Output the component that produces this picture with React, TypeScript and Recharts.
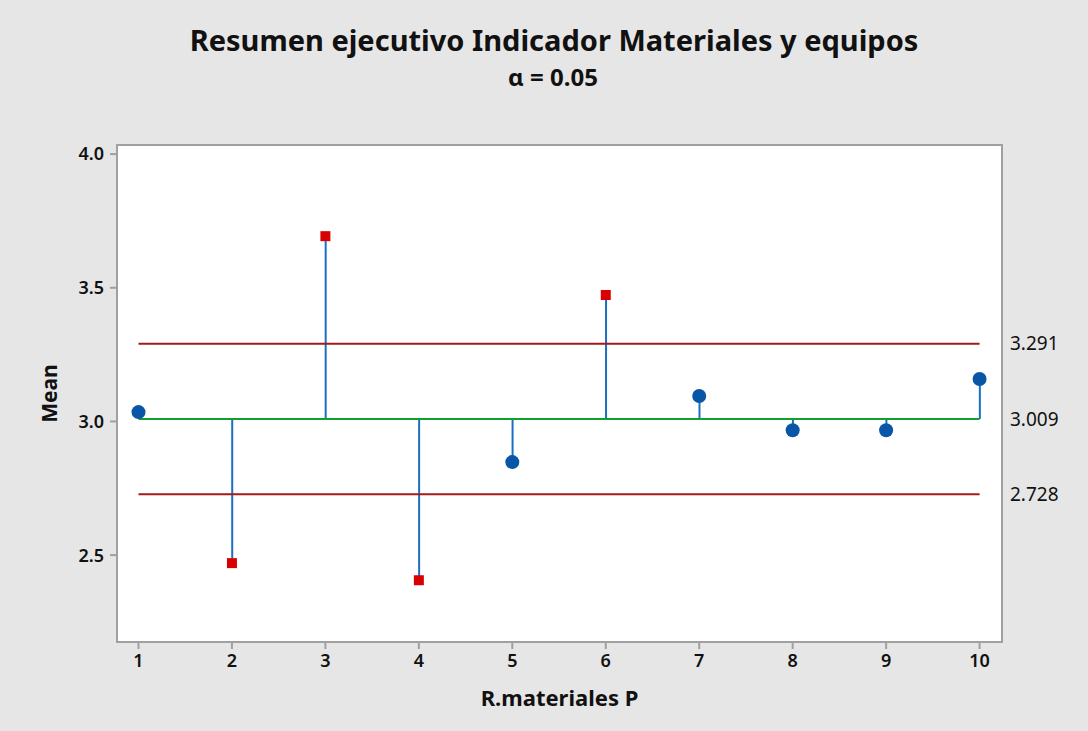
import React from "react";
import {
  ComposedChart,
  Bar,
  Scatter,
  XAxis,
  YAxis,
  ReferenceLine,
  ReferenceArea,
} from "recharts";

// ANOM: medias por nivel de R.materiales P
const groups = [1, 2, 3, 4, 5, 6, 7, 8, 9, 10];
const means = [3.035, 2.47, 3.693, 2.406, 2.848, 3.473, 3.095, 2.967, 2.967, 3.159];
const center = 3.009;
const upper = 3.291;
const lower = 2.728;
const yTicks = [2.5, 3.0, 3.5, 4.0];
const limitTicks = [lower, center, upper];

const X_DOMAIN = [0.77, 10.24];
const Y_DOMAIN = [2.175, 4.034];
const FONT = "'Noto Sans', 'Open Sans', sans-serif";
const GRAY = "#a0a0a0";

const data = groups.map((g, i) => ({ g, mean: means[i], stem: [center, means[i]] }));
const inside = data.filter((d) => d.mean <= upper && d.mean >= lower);
const outside = data.filter((d) => d.mean > upper || d.mean < lower);

const Dot = (p: any) => <circle cx={p.cx} cy={p.cy} r={7} fill="#0a56a6" />;
const Square = (p: any) => (
  <rect x={p.cx - 5} y={p.cy - 5} width={10} height={10} fill="#d80000" />
);

export default function App() {
  return (
    <div
      style={{
        position: "absolute",
        left: 0,
        top: 0,
        width: 1088,
        height: 731,
        background: "#e6e6e6",
        fontFamily: FONT,
      }}
    >
      <div
        style={{
          position: "absolute",
          left: 0,
          width: 1108,
          top: 20,
          textAlign: "center",
          fontSize: 29,
          fontWeight: 700,
          color: "#111",
        }}
      >
        Resumen ejecutivo Indicador Materiales y equipos
      </div>
      <div
        style={{
          position: "absolute",
          left: 0,
          width: 1106,
          top: 60,
          textAlign: "center",
          fontSize: 24,
          fontWeight: 700,
          color: "#111",
        }}
      >
        α = 0.05
      </div>
      <ComposedChart
        width={1088}
        height={731}
        data={data}
        margin={{ top: 145, right: 0, bottom: 29, left: 40 }}
        style={{ position: "absolute", left: 0, top: 0 }}
      >
        <XAxis
          dataKey="g"
          type="number"
          domain={X_DOMAIN}
          ticks={groups}
          allowDataOverflow
          height={60}
          axisLine={{ stroke: GRAY, strokeWidth: 2 }}
          tickLine={{ stroke: GRAY, strokeWidth: 2 }}
          tickSize={7}
          tickMargin={5}
          tick={{ fill: "#111", fontSize: 18, fontWeight: 600, fontFamily: FONT }}
          label={{
            value: "R.materiales P",
            position: "insideBottom",
            offset: -4,
            fill: "#111",
            fontSize: 22,
            fontWeight: 700,
            fontFamily: FONT,
          }}
        />
        <YAxis
          yAxisId="left"
          type="number"
          domain={Y_DOMAIN}
          ticks={yTicks}
          allowDataOverflow
          width={77}
          axisLine={{ stroke: GRAY, strokeWidth: 2 }}
          tickLine={{ stroke: GRAY, strokeWidth: 2 }}
          tickSize={7}
          tickMargin={6}
          tickFormatter={(v: number) => v.toFixed(1)}
          tick={{ fill: "#111", fontSize: 18, fontWeight: 600, fontFamily: FONT }}
          label={{
            value: "Mean",
            angle: -90,
            position: "insideLeft",
            offset: 10,
            style: { textAnchor: "middle" },
            fill: "#111",
            fontSize: 21,
            fontWeight: 700,
            fontFamily: FONT,
          }}
        />
        <YAxis
          yAxisId="right"
          orientation="right"
          type="number"
          domain={Y_DOMAIN}
          ticks={limitTicks}
          allowDataOverflow
          width={86}
          axisLine={{ stroke: GRAY, strokeWidth: 2 }}
          tickLine={false}
          tickSize={6}
          tickMargin={2}
          tickFormatter={(v: number) => v.toFixed(3)}
          tick={{ fill: "#111", fontSize: 19, fontFamily: FONT }}
        />
        <ReferenceArea
          yAxisId="left"
          x1={X_DOMAIN[0]}
          x2={X_DOMAIN[1]}
          y1={Y_DOMAIN[0]}
          y2={Y_DOMAIN[1]}
          fill="#ffffff"
          fillOpacity={1}
          stroke={GRAY}
          strokeWidth={2}
        />
        <ReferenceLine
          yAxisId="left"
          segment={[
            { x: groups[0], y: upper },
            { x: groups[groups.length - 1], y: upper },
          ]}
          stroke="#a01b1b"
          strokeWidth={2}
        />
        <ReferenceLine
          yAxisId="left"
          segment={[
            { x: groups[0], y: lower },
            { x: groups[groups.length - 1], y: lower },
          ]}
          stroke="#a01b1b"
          strokeWidth={2}
        />
        <Bar
          yAxisId="left"
          dataKey="stem"
          barSize={2}
          fill="#1b6fc0"
          isAnimationActive={false}
        />
        <ReferenceLine
          yAxisId="left"
          segment={[
            { x: groups[0], y: center },
            { x: groups[groups.length - 1], y: center },
          ]}
          stroke="#10a030"
          strokeWidth={2}
        />
        <Scatter
          yAxisId="left"
          data={inside}
          dataKey="mean"
          shape={Dot}
          isAnimationActive={false}
        />
        <Scatter
          yAxisId="left"
          data={outside}
          dataKey="mean"
          shape={Square}
          isAnimationActive={false}
        />
      </ComposedChart>
    </div>
  );
}
